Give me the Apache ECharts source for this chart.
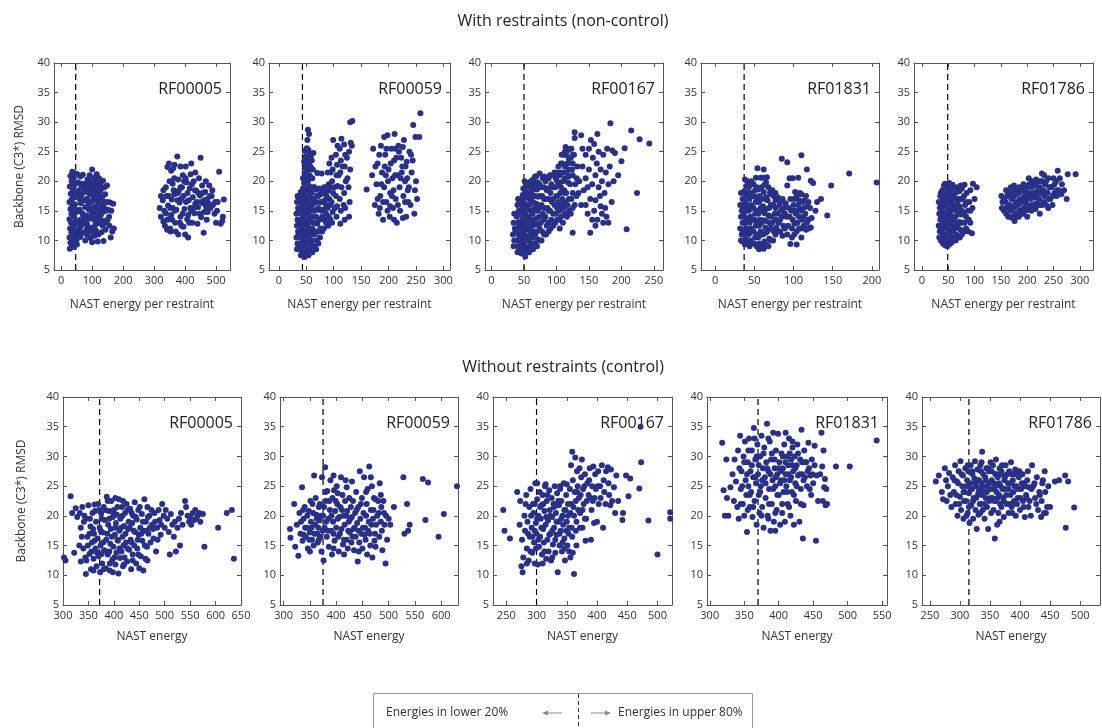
<!DOCTYPE html>
<html>
<head>
<meta charset="utf-8">
<script src="https://cdn.jsdelivr.net/npm/echarts@6/dist/echarts.min.js"></script>
<style>html,body{margin:0;padding:0;background:#fff}#c{width:1102px;height:728px}</style>
</head>
<body>
<div id="c"></div>
<script>
// ---------------- DATA ----------------
const panelNames = ['RF00005','RF00059','RF00167','RF01831','RF01786'];
const rowTitles = ['With restraints (non-control)','Without restraints (control)'];
const xNames = ['NAST energy per restraint','NAST energy'];
const yName = 'Backbone (C3*) RMSD';
const legendLeft = 'Energies in lower 20%';
const legendRight = 'Energies in upper 80%';

const yTicks = [5,10,15,20,25,30,35,40];
const xTicksTop = [
  [0,100,200,300,400,500],
  [0,50,100,150,200,250,300],
  [0,50,100,150,200,250],
  [0,50,100,150,200],
  [0,50,100,150,200,250,300]
];
const xTicksBottom = [
  [300,350,400,450,500,550,600,650],
  [300,350,400,450,500,550,600],
  [250,300,350,400,450,500],
  [300,350,400,450,500,550],
  [250,300,350,400,450,500]
];
const xRangeTop = [[-23,545],[-18,312],[-10,264],[-18,209],[-15,325]];
const xRangeBottom = [[300,650],[293,632],[228,524],[296,557],[237,533]];
const cutTop = [47,43,50,37,49];
const cutBottom = [372,375,300,370,315];

const t1 = [[28,8.6],[35,9.0],[42,8.9],[30,9.6],[46,9.8],[38,10.2],[27,10.5],[44,10.9],[33,11.3],[48,11.6],[29,12.0],[40,12.3],[36,12.9],[47,13.2],[27,13.6],[42,14.0],[33,14.5],[49,14.8],[30,15.3],[38,15.6],[45,16.1],[27,16.5],[35,17.0],[43,17.3],[31,17.9],[48,18.2],[38,18.6],[28,19.1],[44,19.5],[34,20.0],[40,20.5],[30,20.9],[46,21.3],[36,21.6],[52,21.2],[55,19.8],[53,17.5],[56,15.0],[52,12.8],[55,11.0],[50,10.1],[51,9.3],[41,11.6],[32,13.0],[46,15.2],[35,16.2],[41,18.0],[37,19.9],
[62,20.8],[70,21.1],[65,19.3],[75,18.2],[80,19.6],[88,19.1],[95,18.8],[100,19.5],[108,19.2],[115,19.4],[92,21.0],[100,22.0],[115,21.2],[135,20.1],[140,19.0],[125,18.3],[133,17.4],[118,17.7],[105,17.0],[98,16.5],[85,17.1],[72,16.8],[64,16.3],[78,15.6],[90,15.2],[103,15.5],[112,15.8],[122,16.2],[130,15.7],[140,16.5],[150,16.5],[158,16.4],[168,16.2],[145,15.0],[128,14.3],[116,14.0],[104,13.6],[92,13.8],[81,14.2],[68,14.6],[61,13.5],[73,12.8],[86,12.4],[97,12.1],[110,12.6],[124,12.9],[137,13.3],[150,13.5],[143,11.8],[130,11.4],[120,11.0],[108,10.8],[95,10.4],[84,10.9],[70,11.3],[62,10.6],[78,10.0],[100,9.7],[118,9.8],[137,9.9],[160,10.5],[170,12.0],[165,11.5],[155,14.0],[148,19.3],[122,20.5],[85,20.3],[107,20.6],[76,13.6],[93,17.9],[111,18.3],[126,19.6],[66,17.7],[58,18.5],[60,15.2],[88,16.0],[100,14.6],[112,11.7],[135,14.8],
[58,11.8],[63,12.3],[67,19.6],[72,14.0],[76,18.8],[80,16.8],[83,13.0],[87,18.2],[90,11.6],[94,16.5],[97,14.2],[101,17.8],[103,11.3],[106,18.5],[109,14.8],[113,16.8],[114,13.0],[117,18.6],[120,15.0],[123,13.8],[127,17.0],[131,18.8],[134,12.5],[138,15.6],[142,17.8],[146,13.0],[152,15.2],[156,12.5],[162,15.0],[110,20.0],[95,20.0],[82,11.8],[68,13.2],[60,17.0],
[318,15.5],[322,14.0],[330,13.2],[328,16.8],[335,12.5],[338,14.6],[342,11.8],[345,15.9],[348,13.6],[352,12.0],[355,14.3],[357,16.9],[360,19.6],[350,20.0],[343,22.4],[348,23.0],[355,21.8],[362,22.2],[365,17.8],[368,13.0],[370,11.5],[372,15.2],[375,24.2],[378,20.3],[380,18.4],[382,16.4],[385,14.0],[388,12.5],[390,19.0],[393,21.0],[395,17.5],[398,15.3],[400,11.0],[402,22.5],[405,19.8],[407,13.6],[410,10.5],[412,16.8],[415,18.8],[418,21.2],[420,15.0],[423,13.0],[425,17.3],[428,20.0],[430,14.6],[433,16.2],[436,18.4],[440,12.8],[442,15.6],[445,20.5],[448,17.6],[450,24.0],[452,13.9],[455,19.3],[458,16.3],[460,11.3],[462,14.8],[465,18.2],[468,15.7],[470,13.5],[472,17.0],[475,16.3],[478,19.3],[482,15.5],[486,17.5],[490,16.0],[495,14.5],[500,13.0],[505,16.5],[510,21.6],[515,12.8],[520,13.3],[522,14.0],[525,16.9],[330,18.5],[340,17.5],[360,15.5],[385,19.0],[410,14.3],[395,12.3],[375,16.8],[365,20.5],
[322,17.5],[333,15.0],[338,19.0],[347,17.5],[352,15.5],[358,13.5],[363,18.5],[367,15.0],[377,18.0],[383,13.0],[387,17.0],[392,14.5],[397,20.0],[403,16.5],[408,18.0],[413,13.0],[417,15.5],[422,19.5],[427,15.5],[432,18.5],[438,16.5],[443,18.0],[447,14.5],[452,16.5],[457,18.0],[462,16.8],[467,20.0],[473,14.8],[480,17.5],[488,18.5],[497,16.5],[503,15.0],[342,13.5],[353,11.5],[378,11.0],[366,22.8],[385,22.5],[402,20.5],[433,21.5],[420,23.0]];

const t2 = [[33,8.5],[34,9.5],[32,10.5],[35,11.5],[33,12.5],[34,13.5],[32,14.5],[35,15.5],[33,16.5],[34,17.5],
[40,7.5],[41,8.3],[39,9.2],[42,10.1],[40,11.0],[41,11.9],[39,12.8],[42,13.7],[40,14.6],[41,15.5],[39,16.4],[42,17.3],[40,18.2],
[47,7.2],[48,8.0],[46,8.9],[49,9.8],[47,10.7],[48,11.6],[46,12.5],[49,13.4],[47,14.3],[48,15.2],[46,16.1],[49,17.0],[47,17.9],[48,18.8],[46,19.7],[49,20.6],[47,21.5],[48,22.4],[46,23.3],[49,24.2],[47,25.1],
[54,7.5],[55,8.4],[53,9.3],[56,10.2],[54,11.1],[55,12.0],[53,12.9],[56,13.8],[54,14.7],[55,15.6],[53,16.5],[56,17.4],[54,18.3],[55,19.2],[53,20.1],[56,21.0],[54,21.9],[55,22.8],[53,23.7],[56,24.6],[54,25.3],[52,27.0],[53,28.7],[55,28.0],
[61,8.0],[62,9.0],[60,10.0],[63,11.0],[61,12.0],[62,13.0],[60,14.0],[63,15.0],[61,16.0],[62,17.0],[60,18.0],[63,19.0],[61,20.5],[62,22.0],[60,23.5],[63,24.8],
[68,8.5],[69,10.0],[67,11.5],[70,12.8],[68,14.0],[69,15.2],[67,16.4],[70,17.6],[68,18.6],[70,21.4],
[75,10.5],[76,12.0],[74,13.5],[77,15.0],[75,16.5],[76,17.8],[74,18.8],[78,21.3],
[82,12.0],[83,13.5],[81,15.2],[84,16.8],[82,18.0],[83,19.0],
[90,12.5],[91,14.0],[89,15.5],[92,17.0],[90,18.4],[91,19.5],[89,21.5],[92,23.0],
[97,13.0],[98,14.8],[96,16.5],[99,18.0],[97,20.0],[98,22.0],[96,24.0],[99,27.0],
[105,14.0],[106,15.8],[104,17.5],[107,19.2],[105,21.0],[106,22.8],[104,24.5],[107,26.0],
[112,12.8],[113,15.0],[111,17.0],[114,19.0],[112,21.5],[113,23.5],[111,25.5],[114,27.2],
[120,13.5],[121,15.5],[119,18.0],[122,20.0],[120,22.5],[121,24.5],[119,26.2],
[128,14.0],[129,16.5],[127,19.0],[130,22.0],[128,25.0],[131,26.5],[130,30.0],[133,26.0],[134,30.2],
[86,14.5],[94,16.0],[101,19.0],[109,21.0],[116,22.5],[124,24.0],[87,17.5],[102,15.5],[118,16.0],[125,20.5],
[36,9.0],[36,11.0],[36,13.0],[36,15.0],[36,17.0],[44,7.8],[44,9.7],[44,11.5],[44,13.3],[44,15.1],[44,17.0],[44,18.8],[44,20.5],[51,7.5],[51,9.4],[51,11.2],[51,13.0],[51,14.8],[51,16.6],[51,18.4],[51,20.2],[51,22.0],[51,23.8],[51,25.6],[58,8.0],[58,9.8],[58,11.6],[58,13.4],[58,15.2],[58,17.0],[58,18.8],[58,20.6],[58,22.4],[58,24.2],[65,9.0],[65,11.0],[65,13.0],[65,15.0],[65,17.0],[65,19.0],[72,9.5],[72,11.5],[72,13.5],[72,15.5],[72,17.5],[79,11.5],[79,14.0],[79,16.5],[79,18.5],[86,13.0],[86,16.0],[86,19.0],[94,13.5],[94,19.0],[94,21.5],
[160,18.6],[170,21],[172,25.5],[175,16],[178,19.5],[180,23],[182,14.5],[185,17.5],[186,26],[188,21.5],[190,13.5],[192,19],[194,24.5],[196,16.5],[198,27.8],[200,22],[202,14],[203,18],[205,25.5],[207,20.5],[208,15.5],[210,23.5],[211,28],[213,17],[215,13],[216,21],[218,26],[220,19],[221,15],[223,24],[225,22.5],[227,17.5],[228,27],[230,20],[232,14],[233,23.3],[235,18.5],[238,25],[240,16],[242,21.5],[245,29.5],[247,14.5],[249,27.5],[252,17],[256,27.5],[258,31.5],[184,15.5],[195,21],[206,17.5],[214,24],[222,20.5],[230,16.5],[237,19],[192,27.5],[176,22.5],[198,15],[210,13.5],[219,25],[226,13.8],[244,23.5],[250,20],
[180,17.0],[187,19.5],[193,22.5],[199,20.0],[204,23.0],[209,18.5],[212,21.0],[217,16.0],[224,21.5],[231,22.5],[236,16.5],[241,24.5],[190,16.5],[203,15.8],[212,25.5],[226,25.8],[234,20.5],[248,18.5],[183,24.5],[196,25.5]];

const t3 = [[34,9],[35,10],[33,11],[36,12],[34,13],[35,14.5],
[40,8],[41,9],[39,10],[42,11],[40,12],[41,13],[39,14],[42,15],[40,16],[41,17],
[46,7.8],[47,8.7],[45,9.6],[48,10.5],[46,11.4],[47,12.3],[45,13.2],[48,14.1],[46,15.0],[47,15.9],[45,16.8],[48,17.7],
[52,7.3],[53,8.2],[51,9.1],[54,10.0],[52,10.9],[53,11.8],[51,12.7],[54,13.6],[52,14.5],[53,15.4],[51,16.3],[54,17.2],[52,18.1],[53,19.0],[51,20.0],
[58,8.0],[59,9.0],[57,10.0],[60,11.0],[58,12.0],[59,13.0],[57,14.0],[60,15.0],[58,16.0],[59,17.0],[57,18.0],[60,19.0],[58,19.8],
[64,8.5],[65,9.5],[63,10.5],[66,11.5],[64,12.5],[65,13.5],[63,14.5],[66,15.5],[64,16.5],[65,17.5],[63,18.5],[66,19.5],[64,20.3],
[70,9.0],[71,10.2],[69,11.4],[72,12.6],[70,13.8],[71,15.0],[69,16.2],[72,17.4],[70,18.6],[71,19.8],[69,20.8],
[77,10.0],[78,11.5],[76,13.0],[79,14.5],[77,16.0],[78,17.5],[76,19.0],[79,20.5],
[84,11.0],[85,12.5],[83,14.0],[86,15.5],[84,17.0],[85,18.5],[83,20.0],
[91,12.0],[92,13.5],[90,15.0],[93,16.5],[91,18.0],[92,19.5],[90,21.0],
[98,13.0],[99,14.5],[97,16.0],[100,17.5],[98,19.0],[99,20.5],[97,21.5],
[104,13.5],[105,15.0],[103,16.5],[106,18.0],[104,19.5],[105,21.0],[103,22.5],
[110,13.0],[111,15.5],[109,17.0],[112,18.5],[110,20.0],[111,21.5],[109,23.0],[112,24.5],
[116,14.0],[117,16.0],[115,18.0],[118,19.8],[116,21.5],[117,23.0],[115,24.5],[118,25.3],
[122,14.5],[123,17.0],[121,19.5],[124,22.0],[122,24.0],[123,25.5],
[128,16.0],[129,19.5],[127,24.5],
[37,11.5],[43,12.5],[49,13.5],[55,14.0],[61,16.5],[67,13.0],[74,15.5],[81,17.0],[88,13.0],[95,17.0],[101,20.0],[107,16.0],[113,20.5],[119,22.0],[125,23.0],
[43,8.5],[43,10.5],[43,14.5],[43,16.5],[49,8.2],[49,10.0],[49,11.8],[49,15.5],[49,17.2],[49,18.8],[55,8.8],[55,10.6],[55,12.4],[55,16.0],[55,17.8],[55,19.5],[61,9.5],[61,11.5],[61,13.5],[61,18.0],[61,20.0],[67,9.5],[67,11.0],[67,15.0],[67,17.5],[67,19.0],[67,20.8],[74,10.0],[74,12.0],[74,14.0],[74,17.5],[74,19.5],[74,21.3],[81,11.0],[81,13.5],[81,15.5],[81,19.0],[81,20.8],[88,11.5],[88,15.0],[88,17.0],[88,18.8],[88,20.5],[95,12.5],[95,14.5],[95,19.0],[95,21.0],[101,13.5],[101,15.5],[101,17.5],[101,21.5],[107,14.0],[107,19.0],[107,21.5],[107,23.0],[113,14.5],[113,16.5],[113,18.0],[113,22.5],[113,25.0],[119,15.0],[119,17.0],[119,20.8],[119,23.8],[125,15.5],[125,18.0],[125,21.0],[125,24.5],[120,25.5],[114,25.8],[108,24.5],[131,20.5],[131,17.5],
[105,12],[125,11.3],[152,11.3],[128,28.3],[128,27.3],[138,27.8],
[135,20],[138,16],[140,22.5],[142,18.5],[145,24.5],[145,20.5],[148,14.5],[150,25.5],[150,22],[152,17],[153,27],[155,19.5],[156,24],[158,15],[158,26.3],[160,21],[160,16.8],[162,23],[163,13.5],[165,19],[165,25],[167,17.5],[168,22],[170,14.5],[170,20],[172,24.5],[174,18],[175,15.5],[176,21.5],[178,25.5],[180,13],[180,19.5],[182,22.5],[185,16.5],[186,25.2],[188,20],[190,24.8],[195,21],[183,29.8],[200,23.4],[205,25.6],[208,11.9],[215,28.6],[224,18],[228,27.1],[243,26.4],[148,19],[163,28],[145,16],[155,13.5],[172,13],[168,15.8],[177,14],[160,12.5],[140,25.5],[132,22.5],[134,18]];

const t4 = [[33,10],[34,11],[32,12],[35,13],[33,14],[34,15],[32,16],[35,17],[33,18],
[38,9.3],[39,10.2],[37,11.1],[40,12.0],[38,12.9],[39,13.8],[37,14.7],[40,15.6],[38,16.5],[39,17.4],[37,18.3],[40,19.2],[38,20.3],
[44,9.0],[45,10.0],[43,11.0],[46,12.0],[44,13.0],[45,14.0],[43,15.0],[46,16.0],[44,17.0],[45,18.0],[43,19.0],[46,20.0],
[50,9.5],[51,10.5],[49,11.5],[52,12.5],[50,13.5],[51,14.5],[49,15.5],[52,16.5],[50,17.5],[51,18.5],[49,19.5],[52,20.6],
[56,8.5],[57,9.5],[55,10.5],[58,11.5],[56,12.5],[57,13.5],[55,14.5],[58,15.5],[56,16.5],[57,17.5],[55,18.6],[58,20.6],[54,22.2],
[62,8.6],[63,9.8],[61,11.0],[64,12.2],[62,13.4],[63,14.6],[61,15.8],[64,17.0],[62,18.2],[63,19.4],[61,20.6],
[68,9.0],[69,10.3],[67,11.6],[70,12.9],[68,14.2],[69,15.5],[67,16.8],[70,18.1],[68,19.0],
[74,10.0],[75,11.5],[73,13.0],[76,14.5],[74,16.0],[75,17.5],[73,18.5],
[80,11.5],[81,13.0],[79,14.5],[82,16.0],[80,17.3],
[86,10.8],[87,12.5],[85,14.0],[88,15.5],[86,17.0],
[92,11.0],[93,12.5],[91,14.0],[94,15.5],[92,19.3],[95,20.5],
[98,12.0],[99,13.5],[97,15.0],[100,16.0],[96,9.4],[99,20.5],
[104,11.5],[105,13.0],[103,14.5],[106,16.0],[104,17.5],[104,9.3],[106,20.6],[102,18.2],
[110,12.0],[111,13.5],[109,15.0],[112,16.5],[110,17.8],
[116,11.8],[117,13.0],[115,14.5],[118,15.8],[116,17.5],
[122,12.2],[123,13.8],[121,15.5],[122,20.1],
[95,14.0],[101,12.8],[107,15.3],[113,14.0],[119,13.5],[114,16.8],[108,18.0],[96,17.0],[90,16.3],[84,15.0],[78,12.2],[77,16.8],
[35,9.8],[35,11.8],[35,15.8],[41,9.8],[41,11.6],[41,13.4],[41,16.0],[41,18.0],[41,20.0],[47,9.5],[47,11.5],[47,13.5],[47,15.5],[47,17.5],[47,19.5],[53,9.0],[53,11.0],[53,13.0],[53,15.0],[53,17.0],[53,19.0],[59,9.0],[59,11.0],[59,13.0],[59,15.0],[59,17.0],[59,19.0],[65,9.3],[65,11.3],[65,13.3],[65,15.3],[65,17.3],[65,19.8],[71,10.0],[71,12.0],[71,14.0],[71,16.0],[71,17.8],[77,11.0],[77,13.5],[77,15.5],[77,18.0],[83,11.5],[83,13.5],[83,16.5],[89,12.0],[89,14.5],[101,11.0],[101,15.0],[101,17.0],[107,12.0],[107,14.0],[107,16.8],[113,12.5],[113,15.5],[119,12.0],[119,16.5],[110,10.5],[98,10.5],[58,8.7],[62,22.0],[66,20.7],
[85,23.8],[92,23.2],[110,24.4],[117,22],[148,19.3],[171,21.3],[206,19.8],[143,14.2],[135,17],[128,15],[125,19.7],[130,16.5]];

const t5 = [[33,10.5],[34,11.5],[32,12.5],[35,13.5],[33,14.5],[34,15.5],[32,16.5],[35,17.5],
[40,9.5],[41,10.4],[39,11.3],[42,12.2],[40,13.1],[41,14.0],[39,14.9],[42,15.8],[40,16.7],[41,17.6],[39,18.5],[42,19.3],
[48,9.0],[49,9.9],[47,10.8],[50,11.7],[48,12.6],[49,13.5],[47,14.4],[50,15.3],[48,16.2],[49,17.1],[47,18.0],[50,18.9],[48,19.6],
[56,9.6],[57,10.5],[55,11.4],[58,12.3],[56,13.2],[57,14.1],[55,15.0],[58,15.9],[56,16.8],[57,17.7],[55,18.6],[58,19.4],
[64,10.0],[65,11.0],[63,12.0],[66,13.0],[64,14.0],[65,15.0],[63,16.0],[66,17.0],[64,18.0],[65,19.0],
[72,10.5],[73,11.8],[71,13.1],[74,14.4],[72,15.7],[73,17.0],[71,18.3],[74,19.3],
[80,11.5],[81,13.0],[79,14.5],[82,16.0],[80,17.5],[81,19.4],
[88,11.5],[89,13.5],[87,15.0],[90,16.5],
[96,15.5],[97,19.6],[95,11.2],[104,19.0],[85,18.0],[92,18.5],
[36,10.0],[36,12.0],[36,14.0],[36,16.0],[36,18.0],[44,9.2],[44,11.0],[44,12.8],[44,14.6],[44,16.4],[44,18.2],[44,19.6],[52,9.3],[52,11.1],[52,12.9],[52,14.7],[52,16.5],[52,18.3],[52,19.7],[60,10.0],[60,11.8],[60,13.6],[60,15.4],[60,17.2],[60,19.0],[68,10.5],[68,12.5],[68,14.5],[68,16.5],[68,18.5],[76,11.0],[76,13.0],[76,15.0],[76,17.0],[76,18.8],[84,12.0],[84,14.0],[84,16.5],[92,13.0],[92,15.0],[100,17.0],
[152,15.5],[153,16.5],[151,17.5],
[160,14.5],[161,15.5],[159,16.5],[162,17.5],[160,18.5],
[168,14.0],[169,15.0],[167,16.0],[170,17.0],[168,18.0],[169,19.0],
[176,13.3],[177,14.5],[175,15.5],[178,16.5],[176,17.5],[177,18.5],[175,19.3],
[184,14.0],[185,15.0],[183,16.0],[186,17.0],[184,18.0],[185,19.0],
[192,14.5],[193,15.5],[191,16.5],[194,17.5],[192,18.5],[193,19.5],
[200,14.0],[201,15.2],[199,16.2],[202,17.2],[200,18.2],[201,19.2],[203,20.5],
[208,15.0],[209,16.0],[207,17.0],[210,18.0],[208,19.0],[209,20.0],
[216,15.3],[217,16.3],[215,17.3],[218,18.3],[216,19.3],[217,20.3],
[224,14.5],[225,16.0],[223,17.0],[226,18.0],[224,19.0],[225,20.0],[228,21.3],
[232,16.5],[233,17.5],[231,18.5],[234,19.5],[232,21.0],
[240,15.5],[241,17.0],[239,18.0],[242,19.0],[240,20.5],
[248,16.0],[249,17.5],[247,19.0],[250,20.5],
[256,17.5],[257,18.5],[255,20.0],[258,21.8],
[265,17.8],[266,19.5],[275,17.0],[277,21.2],[292,21.2],
[156,15.0],[156,17.0],[164,14.0],[164,16.0],[164,18.0],[172,13.8],[172,15.8],[172,17.8],[180,14.0],[180,16.0],[180,18.0],[188,14.5],[188,16.5],[188,18.5],[196,15.0],[196,17.0],[196,19.0],[204,15.5],[204,17.5],[204,19.5],[212,15.5],[212,17.5],[212,19.5],[220,16.0],[220,18.0],[220,20.0],[228,16.0],[228,18.0],[228,20.0],[236,16.0],[236,18.0],[236,20.0],[244,17.0],[244,19.0],[252,18.0],[252,19.5],[260,18.5],[262,20.5],[270,18.5]];

const b1 = [[302,13.0],[305,12.5],[315,23.3],[318,20.5],[322,13.8],[325,21.3],[328,19.8],[332,15.0],[335,12.3],[338,21.5],[340,14.5],[342,20.0],[345,10.2],[346,12.5],[348,16.5],[350,21.8],[352,13.6],[354,18.2],[355,11.0],[357,15.5],[358,20.5],[360,12.8],[361,17.0],[362,21.9],[364,14.5],[365,19.0],[366,11.5],[368,16.2],[369,22.0],[370,13.2],[372,18.0],[373,10.5],[374,15.0],[375,20.4],[377,12.0],[378,17.2],[380,21.5],[381,14.2],[382,19.3],[384,11.2],[385,16.0],[386,23.2],[388,13.5],[389,18.5],[390,20.8],[392,10.8],[393,15.3],[394,17.8],[395,22.5],[397,12.6],[398,19.8],[399,14.8],[400,21.0],[402,16.8],[403,11.8],[404,18.8],[405,13.8],[406,20.2],[408,15.8],[409,10.3],[410,22.8],[411,17.5],[412,12.9],[413,19.5],[415,14.0],[416,21.5],[417,16.5],[418,11.5],[420,18.3],[421,13.0],[422,20.5],[424,15.5],[425,22.0],[426,12.3],[428,17.8],[429,19.0],[430,14.3],[432,21.2],[433,16.0],[434,11.0],[436,18.8],[437,13.5],[438,20.0],[440,15.0],[441,22.3],[442,17.3],[444,12.0],[445,19.4],[446,14.5],[448,21.0],[449,16.8],[450,11.2],[452,18.0],[453,13.2],[455,20.3],[456,15.8],[458,10.8],[459,17.5],[460,22.8],[462,12.8],[463,19.0],[465,14.8],[466,21.5],[468,17.0],[470,20.0],[472,15.5],[475,18.5],[478,16.2],[480,20.5],[483,14.0],[485,18.0],[488,21.0],[490,19.3],[492,16.8],[495,22.0],[498,20.0],[500,18.0],[505,19.5],[508,17.3],[510,13.5],[512,20.3],[515,18.5],[518,16.5],[520,19.0],[522,14.0],[525,18.0],[528,19.5],[530,15.0],[532,20.5],[535,18.5],[540,22.5],[542,21.5],[545,20.0],[548,19.0],[550,19.8],[552,18.5],[555,20.5],[558,19.3],[560,21.0],[562,19.5],[565,20.0],[568,20.5],[570,19.0],[575,20.3],[578,14.8],[605,18.0],[622,20.5],[632,21.0],[636,12.8],[335,18.0],[345,19.5],[352,17.0],[362,15.8],[376,13.6],
[353,19.5],[356,14.0],[359,17.8],[363,20.8],[367,13.8],[371,21.0],[374,17.5],[376,19.5],[379,15.5],[383,21.0],[387,17.0],[391,14.0],[391,19.5],[396,16.5],[399,20.5],[401,13.0],[403,18.0],[407,16.0],[407,21.5],[411,14.5],[414,18.0],[417,20.0],[419,15.0],[423,17.0],[427,21.0],[427,14.5],[431,18.0],[435,20.5],[435,15.5],[439,17.5],[443,19.8],[447,16.0],[451,21.5],[454,17.0],[457,19.0],[461,15.0],[464,17.5],[467,19.8],[471,18.0],[474,21.0],[477,17.8],[481,19.0],[486,16.0],[493,18.5],[502,21.0],[337,16.5],[341,19.0],[344,13.0],[349,15.0],[333,20.5],[388,22.5],[403,23.0],[418,22.5],[360,10.8],[392,12.0],[420,11.8],[437,12.5],[448,13.5],[466,12.5],[380,11.0],[398,10.5]];

const b2 = [[312,17.8],[313,16.3],[320,22.0],[322,14.8],[325,18.5],[328,13.3],[330,20.5],[332,17.0],[335,24.8],[336,15.8],[338,19.5],[340,21.5],[342,16.5],[344,18.0],[346,14.5],[348,20.8],[350,17.2],[352,19.0],[354,16.0],[355,22.0],[357,15.0],[358,26.8],[360,18.5],[362,20.2],[364,17.0],[365,15.5],[367,21.5],[368,19.2],[370,16.5],[372,14.0],[373,26.5],[375,20.0],[376,12.5],[378,18.0],[379,28.2],[380,22.5],[382,16.5],[383,24.2],[385,19.5],[386,14.8],[388,21.0],[389,26.0],[390,17.5],[392,13.5],[393,23.0],[394,19.0],[396,24.3],[397,15.8],[398,20.8],[400,18.0],[401,25.0],[402,22.0],[404,16.5],[405,14.0],[406,19.8],[408,21.5],[409,26.5],[410,17.8],[412,23.5],[413,15.2],[414,20.0],[416,18.5],[417,22.5],[418,26.0],[420,16.0],[421,20.8],[422,14.5],[424,19.0],[425,23.0],[426,17.2],[428,21.5],[429,15.5],[430,19.8],[432,22.5],[433,17.8],[434,14.2],[436,20.5],[437,16.5],[438,24.0],[440,18.8],[441,12.3],[442,21.5],[444,15.5],[445,27.5],[446,19.5],[448,17.0],[449,23.0],[450,14.5],[452,20.5],[453,26.5],[455,18.0],[456,16.0],[458,22.0],[459,13.5],[460,24.5],[462,19.0],[463,28.3],[464,17.0],[465,15.0],[466,21.0],[468,25.0],[469,13.0],[470,19.5],[472,23.0],[474,17.0],[475,14.8],[478,20.0],[480,22.5],[482,16.5],[483,25.5],[485,19.0],[486,21.5],[488,14.2],[490,22.5],[492,18.5],[494,12.0],[495,20.0],[497,16.0],[500,19.5],[503,18.5],[510,21.5],[528,26.5],[530,17.0],[535,22.0],[537,17.5],[540,18.5],[565,26.2],[570,19.3],[575,25.6],[595,16.5],[605,20.3],[630,25.0],
[333,19.0],[337,21.0],[341,18.0],[345,20.0],[349,16.0],[351,22.5],[353,18.0],[356,20.5],[359,17.0],[361,23.0],[363,19.5],[366,18.0],[369,22.0],[371,20.0],[374,17.5],[377,21.5],[381,19.0],[384,17.5],[387,22.5],[391,20.0],[395,17.0],[399,22.5],[403,19.5],[407,17.0],[411,21.0],[415,16.0],[419,20.0],[423,17.5],[427,19.5],[431,16.5],[435,18.0],[439,21.0],[443,17.5],[447,22.0],[451,18.0],[454,16.8],[457,20.0],[461,17.5],[467,18.5],[471,21.0],[476,18.5],[481,20.5],[487,17.5],[491,20.5],[473,15.8],[443,14.0],[415,13.5],[395,14.5],[367,16.0],[350,14.0],[338,16.8],[395,26.8],[420,24.8],[430,25.8],[466,26.5],[475,22.8],[457,24.0],[485,23.5],[403,23.8],[380,24.0]];

const b3 = [[245,21.0],[247,17.5],[256,16.2],[268,24.0],[272,18.5],[273,22.5],[275,11.5],[276,16.0],[277,10.5],[278,13.0],[280,20.0],[281,17.5],[283,23.5],[284,14.5],[285,19.0],[287,12.5],[288,21.5],[289,16.5],[290,24.5],[292,18.0],[293,13.8],[294,22.0],[295,20.5],[296,15.5],[297,12.0],[298,25.5],[299,18.8],[300,17.0],[301,22.8],[302,11.8],[303,20.0],[304,14.8],[305,24.0],[306,16.5],[307,19.5],[308,21.8],[309,13.5],[310,23.5],[311,17.8],[312,15.5],[313,20.8],[314,25.0],[315,18.5],[316,12.8],[317,22.5],[318,16.0],[319,19.2],[320,14.0],[321,24.3],[322,21.0],[323,17.0],[324,12.5],[325,23.0],[326,19.8],[327,15.2],[328,22.0],[329,18.0],[330,25.0],[331,13.8],[332,20.5],[333,16.8],[334,23.8],[335,10.5],[336,19.0],[337,21.8],[338,15.0],[339,24.5],[340,17.5],[341,22.5],[342,14.0],[343,20.0],[344,18.5],[345,25.5],[346,16.2],[347,12.5],[348,21.0],[349,23.5],[350,19.0],[351,15.0],[352,22.0],[353,17.0],[354,14.0],[355,24.5],[356,20.5],[357,28.5],[358,18.0],[359,30.8],[360,13.8],[360,26.0],[361,21.5],[362,10.2],[363,24.0],[364,29.8],[365,22.5],[366,19.0],[367,27.5],[368,25.0],[370,23.0],[371,28.0],[372,20.5],[374,26.5],[375,29.5],[376,18.0],[377,24.5],[378,22.0],[380,27.0],[381,15.8],[382,19.5],[384,25.5],[386,23.5],[388,28.0],[390,16.0],[391,21.0],[392,25.0],[394,28.3],[395,18.8],[396,23.0],[398,24.5],[400,19.0],[402,27.5],[403,22.0],[405,25.0],[408,28.5],[410,18.0],[412,24.0],[415,27.5],[418,28.2],[420,23.5],[422,21.8],[425,22.5],[428,24.8],[430,20.5],[432,26.8],[435,22.5],[442,19.3],[443,20.5],[448,26.8],[452,23.3],[455,26.3],[470,24.6],[472,35.0],[473,29.0],[485,19.2],[500,13.5],[521,20.6],[521,19.5],
[282,22.0],[286,17.0],[291,20.0],[293,16.5],[297,22.0],[299,14.5],[301,19.5],[303,16.0],[306,21.5],[308,18.0],[311,22.0],[313,14.0],[316,19.8],[318,23.5],[321,16.8],[323,20.0],[326,17.5],[329,21.5],[331,16.0],[333,19.0],[336,22.5],[338,17.0],[341,19.5],[343,15.5],[346,21.0],[349,17.5],[352,20.0],[354,18.0],[357,22.0],[359,16.5],[362,20.0],[365,17.5],[367,24.0],[369,21.0],[373,23.5],[376,21.0],[379,25.0],[383,22.5],[387,26.0],[389,23.0],[393,22.5],[397,27.0],[401,25.0],[406,23.0],[411,26.0],[414,22.0],[419,25.5],[423,27.8],[380,19.5],[372,18.0],[366,15.0],[356,13.0],[346,14.5],[326,13.0],[310,12.0],[284,12.0],[290,14.0],[297,17.5],[301,25.5],[315,25.3],[339,25.0],[350,25.3]];

const b4 = [[318,32.3],[320,24.3],[322,20.0],[324,29.5],[325,23.0],[327,20.0],[330,24.8],[333,27.0],[335,22.5],[336,29.5],[338,25.8],[340,21.5],[341,31.0],[342,19.5],[344,33.5],[345,24.5],[346,27.5],[348,22.0],[349,30.0],[350,20.0],[351,32.5],[352,26.0],[353,23.5],[354,17.3],[355,29.0],[356,25.0],[357,33.0],[358,21.5],[359,27.5],[360,24.0],[361,31.0],[362,19.8],[363,26.5],[364,34.8],[365,22.5],[366,29.5],[367,25.5],[368,18.5],[369,32.0],[370,27.0],[371,23.5],[372,20.5],[373,30.0],[374,25.0],[375,33.5],[376,21.5],[377,28.0],[378,18.0],[379,31.5],[380,26.5],[381,23.0],[382,29.0],[383,35.5],[384,20.0],[385,27.5],[386,24.5],[387,32.5],[388,17.5],[389,29.5],[390,22.0],[391,26.0],[392,34.0],[393,19.0],[394,28.0],[395,25.0],[396,31.0],[397,21.0],[398,27.0],[399,33.8],[400,23.5],[401,29.0],[402,18.5],[403,26.0],[404,30.5],[405,20.5],[406,28.0],[407,24.0],[408,32.0],[409,19.0],[410,27.0],[411,25.0],[412,30.0],[413,22.0],[414,28.5],[415,33.0],[416,26.0],[417,20.0],[418,29.5],[419,24.0],[420,31.5],[421,27.5],[422,18.5],[423,30.0],[424,25.5],[425,22.5],[426,28.5],[427,32.0],[428,26.8],[430,19.0],[431,29.5],[432,24.5],[433,34.5],[434,27.0],[435,16.2],[436,21.8],[437,31.0],[438,26.5],[440,29.0],[442,27.5],[443,32.3],[445,24.5],[446,26.8],[448,29.5],[450,25.5],[452,31.8],[454,15.8],[455,26.8],[457,22.5],[460,27.0],[462,34.0],[463,28.3],[464,22.5],[465,31.0],[466,24.8],[467,26.2],[468,21.8],[469,24.5],[470,22.0],[483,28.3],[503,28.3],[542,32.7],
[343,28.0],[347,25.0],[350,29.0],[354,27.0],[356,31.0],[358,23.5],[361,28.5],[363,21.5],[366,26.5],[368,30.0],[371,28.5],[373,24.0],[376,26.0],[378,30.5],[381,25.5],[383,28.0],[386,22.0],[388,27.0],[390,30.5],[392,24.5],[394,29.5],[396,26.5],[398,23.5],[400,28.0],[402,25.5],[404,27.5],[406,30.0],[408,26.0],[410,29.0],[412,24.0],[414,27.0],[416,30.5],[418,26.5],[420,28.5],[422,23.5],[424,28.0],[426,25.0],[428,30.5],[430,27.0],[432,22.0],[434,29.0],[436,26.0],[438,29.0],[441,25.0],[444,28.0],[447,23.5],[449,27.0],[452,28.5],[395,20.5],[405,22.0],[385,19.5],[375,20.0],[415,21.5],[365,33.0],[385,33.0],[410,34.0],[420,32.5],[345,22.0],[355,21.0],[395,17.5]];

const b5 = [[260,25.8],[265,26.8],[270,24.0],[272,22.8],[275,28.0],[277,26.0],[278,22.5],[280,25.0],[282,27.2],[284,23.5],[286,21.5],[288,26.5],[290,24.0],[292,28.5],[293,22.0],[295,25.8],[296,20.0],[298,27.5],[300,23.2],[301,29.2],[302,21.0],[304,25.0],[305,26.8],[306,19.5],[308,24.0],[309,28.0],[310,22.5],[312,26.0],[313,20.5],[314,27.5],[315,23.8],[316,18.8],[317,25.5],[318,28.5],[319,21.8],[320,24.5],[321,27.0],[322,19.5],[323,23.0],[324,26.3],[325,29.2],[326,21.0],[327,25.0],[328,17.8],[329,27.8],[330,23.5],[331,20.2],[332,26.0],[333,24.5],[334,28.5],[335,22.0],[336,25.5],[337,30.8],[338,21.0],[339,27.0],[340,24.0],[341,19.5],[342,26.5],[343,23.0],[344,28.0],[345,21.5],[346,25.0],[347,17.8],[348,27.5],[349,22.5],[350,24.5],[351,29.0],[352,20.5],[353,26.0],[354,23.0],[355,28.5],[356,21.0],[357,25.5],[358,16.2],[359,27.0],[360,22.5],[361,24.0],[362,18.5],[363,26.5],[364,20.5],[365,23.5],[366,28.0],[368,25.0],[369,21.5],[370,27.0],[372,23.0],[373,19.8],[374,26.0],[375,24.5],[376,28.5],[378,22.0],[380,25.5],[381,20.5],[382,27.5],[384,23.5],[385,29.0],[386,21.5],[388,26.0],[389,24.0],[390,22.5],[392,27.8],[393,20.0],[394,25.0],[396,23.0],[398,26.5],[400,21.0],[402,24.5],[404,27.0],[405,22.5],[407,25.5],[408,19.8],[410,23.5],[412,26.0],[414,21.5],[415,24.8],[418,20.0],[420,28.5],[422,25.0],[425,23.0],[428,26.5],[430,21.0],[432,24.0],[435,19.8],[436,22.5],[438,26.0],[440,20.5],[441,27.5],[442,24.0],[445,21.5],[450,21.5],[458,25.8],[465,26.0],[475,26.8],[476,18.0],[480,25.8],[490,21.4],
[291,26.0],[294,23.5],[297,25.5],[299,22.0],[303,27.0],[306,24.0],[307,22.5],[311,25.0],[313,28.5],[315,21.5],[318,24.5],[320,27.5],[322,22.5],[325,25.5],[327,23.0],[329,26.0],[331,24.0],[333,22.0],[335,27.5],[337,23.5],[339,25.0],[341,22.0],[343,26.0],[345,24.0],[347,28.0],[349,25.5],[351,23.0],[353,27.5],[355,24.5],[357,22.5],[359,25.0],[361,27.0],[363,23.0],[365,25.5],[367,22.0],[369,27.5],[371,24.5],[373,22.5],[375,26.5],[377,23.5],[379,27.0],[381,24.5],[383,22.0],[385,25.5],[387,27.0],[389,22.0],[391,25.0],[393,27.0],[395,22.0],[397,24.5],[399,27.5],[401,23.0],[403,25.5],[406,21.5],[409,25.0],[411,23.0],[413,27.5],[416,22.5],[419,24.5],[424,25.5],[427,22.0],[433,23.5],[437,25.5],[443,20.5],[447,25.0],[311,20.0],[334,20.5],[366,19.0],[387,20.5],[336,29.0],[370,28.5],[360,29.5]];

// ---------------- LAYOUT / STYLE ----------------
const gridBoxes = [
  {left:54, top:63, width:176, height:207},
  {left:269, top:63, width:181, height:207},
  {left:485, top:63, width:178, height:207},
  {left:701, top:63, width:178, height:207},
  {left:914, top:63, width:179, height:207},
  {left:63, top:397, width:178, height:208},
  {left:280, top:397, width:178, height:208},
  {left:493, top:397, width:179, height:208},
  {left:707, top:397, width:180, height:208},
  {left:922, top:397, width:178, height:208}
];
const FONT = '"Open Sans", "Noto Sans", sans-serif';
const DOT = '#283087';
const AX = '#555';

const allData = [t1,t2,t3,t4,t5,b1,b2,b3,b4,b5];
const allTicks = xTicksTop.concat(xTicksBottom);
const allRanges = xRangeTop.concat(xRangeBottom);
const allCuts = cutTop.concat(cutBottom);

const option = {
  animation: false,
  backgroundColor: '#fff',
  textStyle: {fontFamily: FONT},
  grid: [], xAxis: [], yAxis: [], series: [], graphic: []
};

for (let i = 0; i < 10; i++) {
  const top = i < 5;
  const g = gridBoxes[i];
  option.grid.push({left:g.left, top:g.top, width:g.width, height:g.height, containLabel:false});
  const line = {show:true, onZero:false, lineStyle:{color:AX, width:1}};
  const tickX = {show:true, inside:true, length:4, customValues: allTicks[i], lineStyle:{color:AX}};
  option.xAxis.push({
    gridIndex:i, type:'value', position:'bottom', min:allRanges[i][0], max:allRanges[i][1],
    axisLine:line, axisTick:tickX,
    axisLabel:{customValues: allTicks[i], color:'#333', fontSize:11, margin:5, fontFamily:FONT},
    splitLine:{show:false},
    name: top ? xNames[0] : xNames[1], nameLocation:'middle', nameGap: top ? 29 : 26,
    nameTextStyle:{fontSize:12, color:'#333', fontFamily:FONT}
  });
  option.xAxis.push({
    gridIndex:i, type:'value', position:'top', min:allRanges[i][0], max:allRanges[i][1],
    axisLine:line, axisTick:tickX, axisLabel:{show:false}, splitLine:{show:false}
  });
  const tickY = {show:true, inside:true, length:4, customValues: yTicks, lineStyle:{color:AX}};
  option.yAxis.push({
    gridIndex:i, type:'value', position:'left', min:5, max:40, interval:5,
    axisLine:line, axisTick:tickY,
    axisLabel:{customValues: yTicks, color:'#333', fontSize:11, margin:4, fontFamily:FONT},
    splitLine:{show:false},
    name: (i === 0 || i === 5) ? yName : '', nameLocation:'middle', nameGap: top ? 28 : 35,
    nameTextStyle:{fontSize:12, color:'#333', fontFamily:FONT}
  });
  option.yAxis.push({
    gridIndex:i, type:'value', position:'right', min:5, max:40, interval:5,
    axisLine:line, axisTick:tickY, axisLabel:{show:false}, splitLine:{show:false}
  });
  // dashed cut-off line (drawn beneath the points)
  option.series.push({
    type:'line', xAxisIndex:2*i, yAxisIndex:2*i, z:1,
    data:[[allCuts[i], 5], [allCuts[i], 40]],
    showSymbol:false, symbol:'none', silent:true,
    lineStyle:{type:[6,4], color:'#000', width:1.2}
  });
  option.series.push({
    type:'scatter', xAxisIndex:2*i, yAxisIndex:2*i, z:3, data: allData[i],
    symbolSize:6, itemStyle:{color:DOT, opacity:1}
  });
  option.graphic.push({
    type:'text', x: g.left + g.width - 8, y: g.top + 26,
    style:{text: panelNames[i % 5], fontSize:16, fill:'#222', align:'right', verticalAlign:'middle', fontFamily:FONT}
  });
}

option.graphic.push(
  {type:'text', x:563, y:21, style:{text:rowTitles[0], fontSize:16, fill:'#222', align:'center', verticalAlign:'middle', fontFamily:FONT}},
  {type:'text', x:563, y:367, style:{text:rowTitles[1], fontSize:16, fill:'#222', align:'center', verticalAlign:'middle', fontFamily:FONT}},
  {type:'rect', shape:{x:373.5, y:693.5, width:379, height:60}, style:{fill:'none', stroke:'#999', lineWidth:1}},
  {type:'text', x:386, y:713, style:{text:legendLeft, fontSize:12, fill:'#333', align:'left', verticalAlign:'middle', fontFamily:FONT}},
  {type:'line', shape:{x1:546, y1:713, x2:562, y2:713}, style:{stroke:'#888', lineWidth:1}},
  {type:'polygon', shape:{points:[[542,713],[548,710.5],[548,715.5]]}, style:{fill:'#888'}},
  {type:'line', shape:{x1:578.5, y1:694, x2:578.5, y2:728}, style:{stroke:'#333', lineWidth:1, lineDash:[4,3]}},
  {type:'line', shape:{x1:591, y1:713, x2:607, y2:713}, style:{stroke:'#888', lineWidth:1}},
  {type:'polygon', shape:{points:[[611,713],[605,710.5],[605,715.5]]}, style:{fill:'#888'}},
  {type:'text', x:618, y:713, style:{text:legendRight, fontSize:12, fill:'#333', align:'left', verticalAlign:'middle', fontFamily:FONT}}
);

const chart = echarts.init(document.getElementById('c'), null, {renderer:'canvas'});
chart.setOption(option);
</script>
</body>
</html>
